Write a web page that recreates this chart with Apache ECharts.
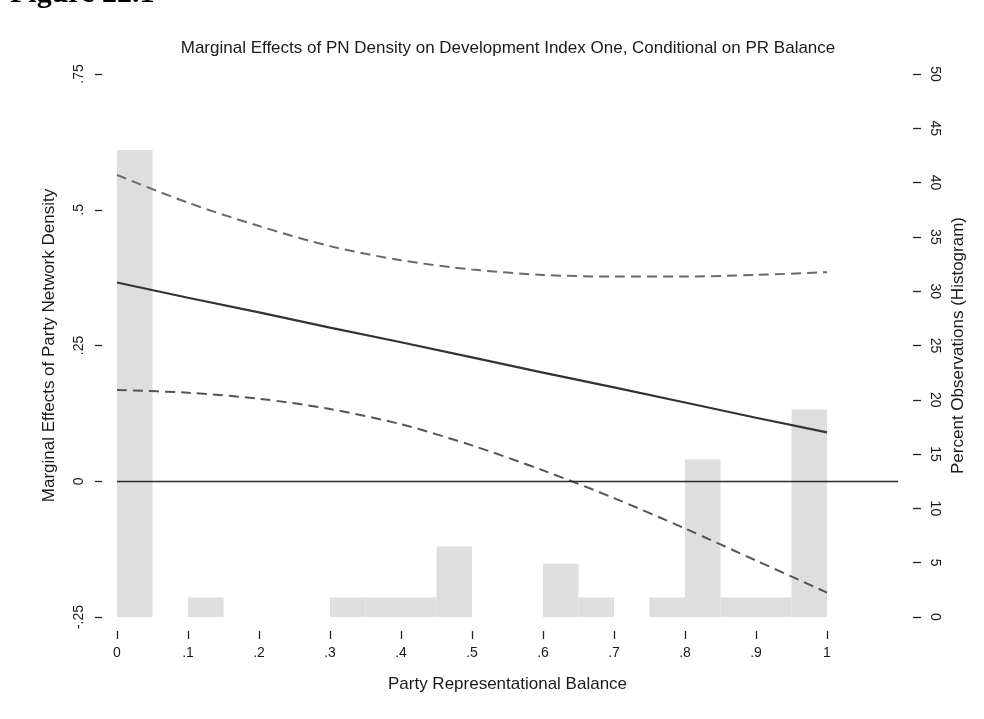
<!DOCTYPE html>
<html>
<head>
<meta charset="utf-8">
<script src="https://cdn.jsdelivr.net/npm/echarts@6/dist/echarts.min.js"></script>
<style>
  html, body { margin: 0; padding: 0; background: #fff; }
  #chart { width: 984px; height: 719px; }
</style>
</head>
<body>
<div id="chart"></div>
<script>
// Party representational balance values at which the marginal effect is evaluated
const balance = [0, 0.1, 0.2, 0.3, 0.4, 0.5, 0.6, 0.7, 0.8, 0.9, 1];
// Marginal effect of party network density and its confidence bounds
const effect = [0.366, 0.338, 0.311, 0.283, 0.256, 0.228, 0.200, 0.173, 0.145, 0.117, 0.090];
const upperCI = [0.564, 0.513, 0.470, 0.433, 0.407, 0.390, 0.380, 0.377, 0.377, 0.380, 0.385];
const lowerCI = [0.168, 0.163, 0.152, 0.133, 0.105, 0.066, 0.020, -0.031, -0.087, -0.146, -0.205];

// Histogram of observations (percent per bin of width 0.05)
const binStart = [0, 0.1, 0.3, 0.35, 0.4, 0.45, 0.6, 0.65, 0.75, 0.8, 0.85, 0.9, 0.95];
const binPercent = [43.0, 1.8, 1.8, 1.8, 1.8, 6.5, 4.9, 1.8, 1.8, 14.5, 1.8, 1.8, 19.1];
const binWidth = 0.05;

// Tick values
const xTicks = [0, 0.1, 0.2, 0.3, 0.4, 0.5, 0.6, 0.7, 0.8, 0.9, 1];
const leftTicks = [-0.25, 0, 0.25, 0.5, 0.75];
const rightTicks = [0, 5, 10, 15, 20, 25, 30, 35, 40, 45, 50];

const FONT = '"Liberation Sans", Arial, Helvetica, sans-serif';
const INK = '#1a1a1a';
const TICK = { color: '#222', width: 1.3 };

// Stata-style numbers without the leading zero: .5, -.25
function stataNum(v) {
  return String(v).replace(/^(-?)0\./, '$1.');
}

const chart = echarts.init(document.getElementById('chart'), null, { renderer: 'canvas' });

const histData = binStart.map((s, i) => [s, s + binWidth, binPercent[i]]);

chart.setOption({
  animation: false,
  backgroundColor: '#ffffff',
  title: {
    text: 'Marginal Effects of PN Density on Development Index One, Conditional on PR Balance',
    left: 503,
    top: 35,
    textAlign: 'center',
    textStyle: { fontFamily: FONT, fontSize: 17, fontWeight: 'normal', color: INK }
  },
  graphic: [{
    type: 'text',
    left: 10,
    top: -21,
    style: {
      text: 'Figure 22.1',
      font: 'bold 30px "Liberation Serif", "Times New Roman", serif',
      fill: '#000'
    }
  }],
  grid: { left: 117, right: 86, top: 74, bottom: 102, containLabel: false },
  xAxis: {
    type: 'value',
    min: 0,
    max: 1.1,
    offset: 14,
    name: 'Party Representational Balance',
    nameLocation: 'middle',
    nameGap: 45,
    nameTextStyle: { fontFamily: FONT, fontSize: 17, color: INK },
    axisLine: { show: false, onZero: false },
    axisTick: { show: true, length: 8, customValues: xTicks, lineStyle: TICK },
    axisLabel: { customValues: xTicks, formatter: stataNum, margin: 15, fontFamily: FONT, fontSize: 14, color: INK },
    splitLine: { show: false }
  },
  yAxis: [{
    type: 'value',
    min: -0.25,
    max: 0.75,
    position: 'left',
    offset: 15,
    name: 'Marginal Effects of Party Network Density',
    nameLocation: 'middle',
    nameRotate: 90,
    nameGap: 44,
    nameTextStyle: { fontFamily: FONT, fontSize: 17, color: INK },
    axisLine: { show: false, onZero: false },
    axisTick: { show: true, length: 7, customValues: leftTicks, lineStyle: TICK },
    axisLabel: { customValues: leftTicks, formatter: stataNum, rotate: 90, margin: 16, fontFamily: FONT, fontSize: 14, color: INK },
    splitLine: { show: false }
  }, {
    type: 'value',
    min: 0,
    max: 50,
    position: 'right',
    offset: 15,
    name: 'Percent Observations (Histogram)',
    nameLocation: 'middle',
    nameRotate: 90,
    nameGap: 35,
    nameTextStyle: { fontFamily: FONT, fontSize: 17, color: INK },
    axisLine: { show: false, onZero: false },
    axisTick: { show: true, length: 8, customValues: rightTicks, lineStyle: TICK },
    axisLabel: { customValues: rightTicks, rotate: -90, margin: 15, fontFamily: FONT, fontSize: 14, color: INK },
    splitLine: { show: false }
  }],
  series: [{
    type: 'custom',
    name: 'histogram',
    xAxisIndex: 0,
    yAxisIndex: 1,
    encode: { x: [0, 1], y: 2 },
    data: histData,
    z: 1,
    renderItem: function (params, api) {
      const topLeft = api.coord([api.value(0), api.value(2)]);
      const bottomRight = api.coord([api.value(1), 0]);
      return {
        type: 'rect',
        shape: {
          x: topLeft[0],
          y: topLeft[1],
          width: bottomRight[0] - topLeft[0],
          height: bottomRight[1] - topLeft[1]
        },
        style: { fill: '#dedede' }
      };
    }
  }, {
    type: 'line',
    name: 'zero',
    yAxisIndex: 0,
    data: [],
    z: 3,
    markLine: {
      silent: true,
      symbol: 'none',
      label: { show: false },
      lineStyle: { color: '#2a2a2a', width: 1.3, type: 'solid' },
      data: [{ yAxis: 0 }]
    }
  }, {
    type: 'line',
    name: 'upper',
    yAxisIndex: 0,
    data: balance.map((x, i) => [x, upperCI[i]]),
    smooth: 0.3,
    symbol: 'none',
    z: 4,
    lineStyle: { color: '#6a6a6a', width: 2, type: [10, 6] }
  }, {
    type: 'line',
    name: 'lower',
    yAxisIndex: 0,
    data: balance.map((x, i) => [x, lowerCI[i]]),
    smooth: 0.3,
    symbol: 'none',
    z: 4,
    lineStyle: { color: '#555555', width: 2, type: [10, 6] }
  }, {
    type: 'line',
    name: 'effect',
    yAxisIndex: 0,
    data: balance.map((x, i) => [x, effect[i]]),
    symbol: 'none',
    z: 5,
    lineStyle: { color: '#333333', width: 2.2 }
  }]
});
</script>
</body>
</html>
